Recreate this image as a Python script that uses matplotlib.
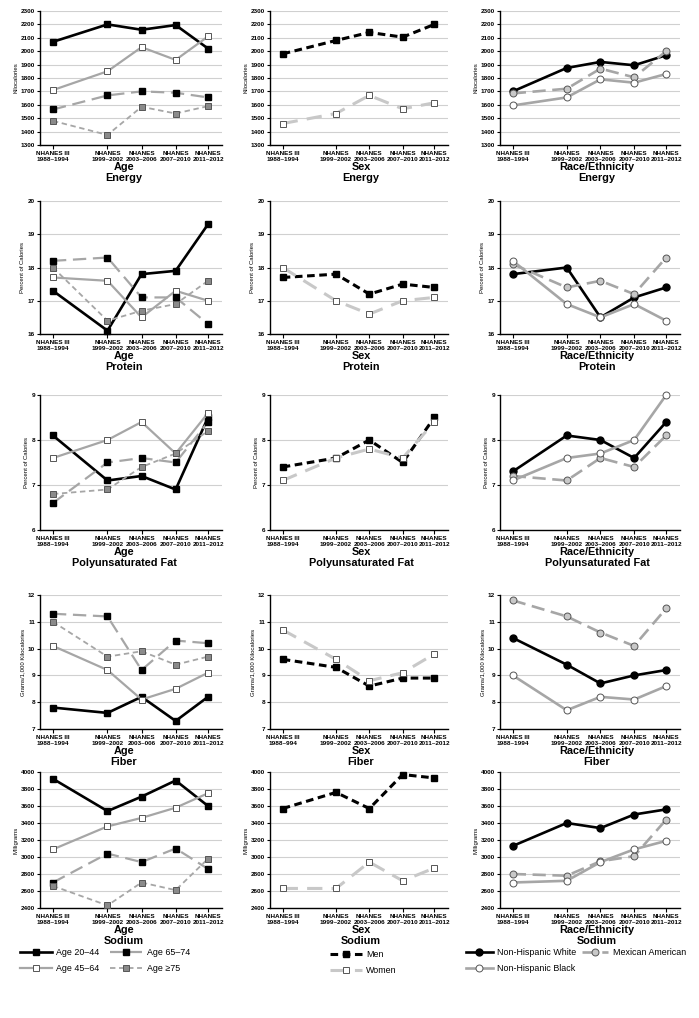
import matplotlib
matplotlib.use("Agg")
import matplotlib.pyplot as plt
from matplotlib.lines import Line2D
from matplotlib import font_manager

plt.rcParams['font.family'] = ['Liberation Sans', 'DejaVu Sans']
_names = {f.name for f in font_manager.fontManager.ttflist}
NARROW = ['Liberation Sans Narrow', 'Liberation Sans'] if 'Liberation Sans Narrow' in _names else ['Liberation Sans']

# ---------------- data ----------------
surveys = ["NHANES III\n1988–1994", "NHANES\n1999–2002", "NHANES\n2003–2006",
           "NHANES\n2007–2010", "NHANES\n2011–2012"]
surveys_fiber_age = ["NHANES III\n1988–1994", "NHANES\n1999–2002", "NHANES\n2003–006",
                     "NHANES\n2007–2010", "NHANES\n2011–2012"]
surveys_fiber_sex = ["NHANES III\n1988–994", "NHANES\n1999–2002", "NHANES\n2003–2006",
                     "NHANES\n2007–2010", "NHANES\n2011–2012"]

age_groups = ["Age 20–44", "Age 45–64", "Age 65–74", "Age ≥75"]
sex_groups = ["Men", "Women"]
race_groups = ["Non-Hispanic White", "Mexican American", "Non-Hispanic Black"]

# Energy (kcal)
energy_age_20_44 = [2070, 2200, 2160, 2195, 2020]
energy_age_45_64 = [1710, 1850, 2030, 1935, 2110]
energy_age_65_74 = [1565, 1670, 1700, 1690, 1655]
energy_age_75 = [1480, 1375, 1585, 1535, 1590]
energy_men = [1980, 2080, 2140, 2105, 2200]
energy_women = [1460, 1535, 1670, 1570, 1615]
energy_nhw = [1700, 1875, 1920, 1895, 1970]
energy_mex = [1685, 1720, 1870, 1805, 2000]
energy_nhb = [1595, 1655, 1790, 1765, 1830]

# Protein (% of calories)
protein_age_20_44 = [17.3, 16.1, 17.8, 17.9, 19.3]
protein_age_45_64 = [17.7, 17.6, 16.5, 17.3, 17.0]
protein_age_65_74 = [18.2, 18.3, 17.1, 17.1, 16.3]
protein_age_75 = [18.0, 16.4, 16.7, 16.9, 17.6]
protein_men = [17.7, 17.8, 17.2, 17.5, 17.4]
protein_women = [18.0, 17.0, 16.6, 17.0, 17.1]
protein_nhw = [17.8, 18.0, 16.5, 17.1, 17.4]
protein_mex = [18.1, 17.4, 17.6, 17.2, 18.3]
protein_nhb = [18.2, 16.9, 16.5, 16.9, 16.4]

# Polyunsaturated fat (% of calories)
pufa_age_20_44 = [8.1, 7.1, 7.2, 6.9, 8.5]
pufa_age_45_64 = [7.6, 8.0, 8.4, 7.7, 8.6]
pufa_age_65_74 = [6.6, 7.5, 7.6, 7.5, 8.4]
pufa_age_75 = [6.8, 6.9, 7.4, 7.7, 8.2]
pufa_men = [7.4, 7.6, 8.0, 7.5, 8.5]
pufa_women = [7.1, 7.6, 7.8, 7.6, 8.4]
pufa_nhw = [7.3, 8.1, 8.0, 7.6, 8.4]
pufa_mex = [7.2, 7.1, 7.6, 7.4, 8.1]
pufa_nhb = [7.1, 7.6, 7.7, 8.0, 9.0]

# Fiber (g / 1,000 kcal)
fiber_age_20_44 = [7.8, 7.6, 8.2, 7.3, 8.2]
fiber_age_45_64 = [10.1, 9.2, 8.1, 8.5, 9.1]
fiber_age_65_74 = [11.3, 11.2, 9.2, 10.3, 10.2]
fiber_age_75 = [11.0, 9.7, 9.9, 9.4, 9.7]
fiber_men = [9.6, 9.3, 8.6, 8.9, 8.9]
fiber_women = [10.7, 9.6, 8.8, 9.1, 9.8]
fiber_nhw = [10.4, 9.4, 8.7, 9.0, 9.2]
fiber_mex = [11.8, 11.2, 10.6, 10.1, 11.5]
fiber_nhb = [9.0, 7.7, 8.2, 8.1, 8.6]

# Sodium (mg)
sodium_age_20_44 = [3920, 3540, 3710, 3900, 3600]
sodium_age_45_64 = [3090, 3360, 3460, 3580, 3750]
sodium_age_65_74 = [2700, 3040, 2940, 3100, 2860]
sodium_age_75 = [2660, 2430, 2700, 2610, 2980]
sodium_men = [3570, 3760, 3570, 3970, 3930]
sodium_women = [2630, 2630, 2940, 2720, 2870]
sodium_nhw = [3130, 3400, 3340, 3500, 3560]
sodium_mex = [2800, 2780, 2950, 3010, 3440]
sodium_nhb = [2700, 2720, 2940, 3090, 3190]

nutrients = ["Energy", "Protein", "Polyunsaturated Fat", "Fiber", "Sodium"]
ylabels = ["Kilocalories", "Percent of Calories", "Percent of Calories",
           "Grams/1,000 Kilocalories", "Milligrams"]
yticks_list = [list(range(1300, 2301, 100)), [16, 17, 18, 19, 20], [6, 7, 8, 9],
               [7, 8, 9, 10, 11, 12], list(range(2400, 4001, 200))]

age_data = [
    [energy_age_20_44, energy_age_45_64, energy_age_65_74, energy_age_75],
    [protein_age_20_44, protein_age_45_64, protein_age_65_74, protein_age_75],
    [pufa_age_20_44, pufa_age_45_64, pufa_age_65_74, pufa_age_75],
    [fiber_age_20_44, fiber_age_45_64, fiber_age_65_74, fiber_age_75],
    [sodium_age_20_44, sodium_age_45_64, sodium_age_65_74, sodium_age_75],
]
sex_data = [
    [energy_men, energy_women], [protein_men, protein_women], [pufa_men, pufa_women],
    [fiber_men, fiber_women], [sodium_men, sodium_women],
]
race_data = [
    [energy_nhw, energy_mex, energy_nhb], [protein_nhw, protein_mex, protein_nhb],
    [pufa_nhw, pufa_mex, pufa_nhb], [fiber_nhw, fiber_mex, fiber_nhb],
    [sodium_nhw, sodium_mex, sodium_nhb],
]

# ---------------- styles ----------------
GRAY = "#a6a6a6"
MGRAY = "#8a8a8a"
LGRAY = "#c8c8c8"
age_styles = [
    dict(color="black", lw=1.9, ls="-", marker="s", ms=4, mfc="black", mec="black"),
    dict(color=GRAY, lw=1.6, ls="-", marker="s", ms=4, mfc="white", mec="#555555", mew=0.7),
    dict(color=GRAY, lw=1.6, ls=(0, (6, 3)), marker="s", ms=4, mfc="black", mec="black"),
    dict(color=GRAY, lw=1.3, ls=(0, (3, 2)), marker="s", ms=4, mfc=MGRAY, mec="#555555", mew=0.7),
]
sex_styles = [
    dict(color="black", lw=2.2, ls=(0, (2.5, 1.5)), marker="s", ms=4, mfc="black", mec="black"),
    dict(color=LGRAY, lw=2.2, ls=(0, (5, 3)), marker="s", ms=4, mfc="white", mec="#555555", mew=0.7),
]
race_styles = [
    dict(color="black", lw=1.9, ls="-", marker="o", ms=5, mfc="black", mec="black"),
    dict(color=GRAY, lw=1.9, ls=(0, (5, 2.5)), marker="o", ms=5, mfc=LGRAY, mec="#555555", mew=0.7),
    dict(color=GRAY, lw=1.9, ls="-", marker="o", ms=5, mfc="white", mec="#555555", mew=0.7),
]

xpos = [0, 1.6, 2.6, 3.6, 4.55]

W, H = 699, 1018
fig = plt.figure(figsize=(W / 100, H / 100), dpi=100)

row_tb = [(11, 145), (201, 334), (395, 530), (595, 729), (772, 908)]
col_lr = [(40, 222), (270, 448), (500, 680)]
title_cx = [124, 361, 597]
groups_titles = ["Age", "Sex", "Race/Ethnicity"]


def make_ax(r, c):
    t, b = row_tb[r]
    l, rr = col_lr[c]
    return fig.add_axes([l / W, 1 - b / H, (rr - l) / W, (b - t) / H])


for r in range(5):
    for c in range(3):
        ax = make_ax(r, c)
        if c == 0:
            data, styles = age_data[r], age_styles
        elif c == 1:
            data, styles = sex_data[r], sex_styles
        else:
            data, styles = race_data[r], race_styles
        for vals, st in zip(data, styles):
            ax.plot(xpos, vals, zorder=3, clip_on=False, **st)
        yt = yticks_list[r]
        ax.set_ylim(yt[0], yt[-1])
        ax.set_yticks(yt)
        ax.set_xlim(-0.38, 4.96)
        ax.set_xticks(xpos)
        labels = surveys
        if r == 3 and c == 0:
            labels = surveys_fiber_age
        if r == 3 and c == 1:
            labels = surveys_fiber_sex
        ax.set_xticklabels(labels, fontsize=4.6, fontweight="bold", linespacing=1.25,
                           family=NARROW)
        ax.set_yticklabels([str(v) for v in yt], fontsize=4.6, fontweight="bold",
                           family=NARROW)
        ax.tick_params(axis="y", length=2, width=0.8, pad=1.5)
        ax.tick_params(axis="x", length=3, width=0.8, pad=1.5)
        ax.grid(axis="y", color="#d0d0d0", lw=0.8)
        ax.set_axisbelow(True)
        for s in ["top", "right"]:
            ax.spines[s].set_visible(False)
        ax.spines["left"].set_linewidth(1.0)
        ax.spines["bottom"].set_linewidth(1.0)
        ax.set_ylabel(ylabels[r], fontsize=4.3, labelpad=2)
        t, b = row_tb[r]
        fig.text(title_cx[c] / W, 1 - (b + 17) / H,
                 groups_titles[c] + "\n" + nutrients[r],
                 ha="center", va="top", fontsize=7.8, fontweight="bold", linespacing=1.15)

# ---------------- legends ----------------
def handle(st, label):
    return Line2D([0], [0], label=label, **st)

leg_kw = dict(frameon=False, fontsize=6.4, handletextpad=0.5,
              borderaxespad=0, borderpad=0, labelspacing=0.75)
fig.legend(handles=[handle(age_styles[0], age_groups[0]), handle(age_styles[1], age_groups[1]),
                    handle(age_styles[2], age_groups[2]), handle(age_styles[3], age_groups[3])],
           loc="upper left", bbox_to_anchor=(20 / W, 1 - 948 / H), ncol=2,
           columnspacing=1.2, handlelength=3.6, **leg_kw)
fig.legend(handles=[handle(sex_styles[0], sex_groups[0]), handle(sex_styles[1], sex_groups[1])],
           loc="upper left", bbox_to_anchor=(330 / W, 1 - 950 / H), ncol=1,
           handlelength=3.6, **leg_kw)
fig.legend(handles=[handle(race_styles[0], race_groups[0]), handle(race_styles[2], race_groups[2]),
                    handle(race_styles[1], race_groups[1])],
           loc="upper left", bbox_to_anchor=(466 / W, 1 - 948 / H), ncol=2,
           columnspacing=0.6, handlelength=3.0, **leg_kw)

fig.savefig("out.png", dpi=100)
